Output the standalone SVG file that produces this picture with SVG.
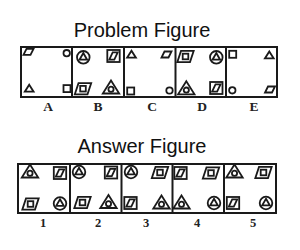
<svg xmlns="http://www.w3.org/2000/svg" xmlns:xlink="http://www.w3.org/1999/xlink" width="300" height="250" viewBox="0 0 300 250">
<style>
.box{fill:none;stroke:#1a1a1a;stroke-width:2}
.sh{fill:none;stroke:#1a1a1a;stroke-width:1.8;stroke-linejoin:miter}
.title{font-family:"Liberation Sans",Arial,sans-serif;font-size:20px;fill:#111;text-anchor:middle}
.lbl{font-family:"Liberation Serif","Times New Roman",serif;font-size:13.5px;font-weight:bold;fill:#222;text-anchor:middle}
.num{font-family:"Liberation Serif","Times New Roman",serif;font-size:12.5px;font-weight:bold;fill:#222;text-anchor:middle}
</style>
<defs>
<polygon id="sp" class="sh" points="-2,-3 5,-3 2,3 -5,3"/>
<circle id="sc" class="sh" r="3.2"/>
<polygon id="st" class="sh" points="0,-3.6 4.4,3.4 -4.4,3.4"/>
<rect id="ss" class="sh" x="-3.5" y="-3.5" width="7" height="7"/>
<g id="CT"><circle class="sh" r="6.3"/><polygon class="sh" points="0,-4.3 3.8,2.4 -3.8,2.4"/></g>
<g id="SP"><rect class="sh" x="-6.2" y="-6" width="12.4" height="12"/><polygon class="sh" points="-0.8,-3.6 4.2,-3.6 0.8,3.6 -4.2,3.6"/></g>
<g id="PS"><polygon class="sh" points="-4.5,-5.6 8.2,-5.6 4.5,5.6 -8.2,5.6"/><rect class="sh" x="-2.8" y="-2.8" width="5.6" height="5.6"/></g>
<g id="TC"><polygon class="sh" points="0,-7 8.2,6 -8.2,6"/><circle class="sh" cx="0" cy="1.8" r="2.6"/></g>
</defs>
<text class="title" x="142" y="37">Problem Figure</text>
<text class="title" x="142" y="153">Answer Figure</text>
<g id="problem-frame">
<rect class="box" x="21" y="47" width="256" height="50"/>
<line class="box" x1="72" y1="47" x2="72" y2="97"/>
<line class="box" x1="124" y1="47" x2="124" y2="97"/>
<line class="box" x1="175.5" y1="47" x2="175.5" y2="97"/>
<line class="box" x1="226" y1="47" x2="226" y2="97"/>
</g>
<g id="cellA">
<use xlink:href="#sp" x="28.5" y="51.8"/>
<use xlink:href="#sc" x="66.7" y="53.2"/>
<use xlink:href="#st" x="29.2" y="88.3"/>
<use xlink:href="#ss" x="67" y="88.6"/>
</g>
<g id="cellB">
<use xlink:href="#CT" x="83.3" y="57.3"/>
<use xlink:href="#SP" x="113.5" y="56"/>
<use xlink:href="#PS" x="83" y="88.7"/>
<use xlink:href="#TC" x="111" y="87.5"/>
</g>
<g id="cellC">
<use xlink:href="#st" x="131.5" y="54.3"/>
<use xlink:href="#sp" x="166.5" y="54.5"/>
<use xlink:href="#ss" x="130.7" y="91"/>
<use xlink:href="#sc" x="169.5" y="90.5"/>
</g>
<g id="cellD">
<use xlink:href="#PS" x="185.5" y="56.5"/>
<use xlink:href="#CT" x="216.3" y="57.3"/>
<use xlink:href="#TC" x="186.3" y="88.3"/>
<use xlink:href="#SP" x="216.3" y="88"/>
</g>
<g id="cellE">
<use xlink:href="#ss" x="232.7" y="54.3"/>
<use xlink:href="#st" x="269.3" y="55"/>
<use xlink:href="#sc" x="232.3" y="90.3"/>
<use xlink:href="#sp" x="270" y="89.5"/>
</g>
<g id="problem-labels">
<text class="lbl" x="48" y="111">A</text>
<text class="lbl" x="98" y="111">B</text>
<text class="lbl" x="152" y="111">C</text>
<text class="lbl" x="202" y="111">D</text>
<text class="lbl" x="254" y="111">E</text>
</g>
<g id="answer-frame">
<rect class="box" x="18" y="164" width="258" height="49"/>
<line class="box" x1="70" y1="164" x2="70" y2="213"/>
<line class="box" x1="121.5" y1="164" x2="121.5" y2="213"/>
<line class="box" x1="172.5" y1="164" x2="172.5" y2="213"/>
<line class="box" x1="224" y1="164" x2="224" y2="213"/>
</g>
<g id="ans1">
<use xlink:href="#TC" x="30" y="171.5"/>
<use xlink:href="#SP" x="60" y="173"/>
<use xlink:href="#PS" x="30.5" y="204"/>
<use xlink:href="#CT" x="60" y="203.5"/>
</g>
<g id="ans2">
<use xlink:href="#CT" x="79" y="172"/>
<use xlink:href="#SP" x="111" y="172.5"/>
<use xlink:href="#PS" x="82.5" y="202.5"/>
<use xlink:href="#TC" x="108.5" y="202"/>
</g>
<g id="ans3">
<use xlink:href="#CT" x="131" y="172"/>
<use xlink:href="#PS" x="160" y="172.5"/>
<use xlink:href="#SP" x="130.5" y="203"/>
<use xlink:href="#TC" x="161.5" y="202.5"/>
</g>
<g id="ans4">
<use xlink:href="#SP" x="180.5" y="173"/>
<use xlink:href="#PS" x="211" y="173"/>
<use xlink:href="#TC" x="181.5" y="202.5"/>
<use xlink:href="#CT" x="214" y="203"/>
</g>
<g id="ans5">
<use xlink:href="#TC" x="234.5" y="171.5"/>
<use xlink:href="#PS" x="263.5" y="172.5"/>
<use xlink:href="#SP" x="233" y="203"/>
<use xlink:href="#CT" x="266" y="203"/>
</g>
<g id="answer-labels">
<text class="num" x="43" y="227">1</text>
<text class="num" x="98" y="227">2</text>
<text class="num" x="146" y="227">3</text>
<text class="num" x="197" y="227">4</text>
<text class="num" x="253" y="227">5</text>
</g>
<g id="connectors"/>
</svg>
